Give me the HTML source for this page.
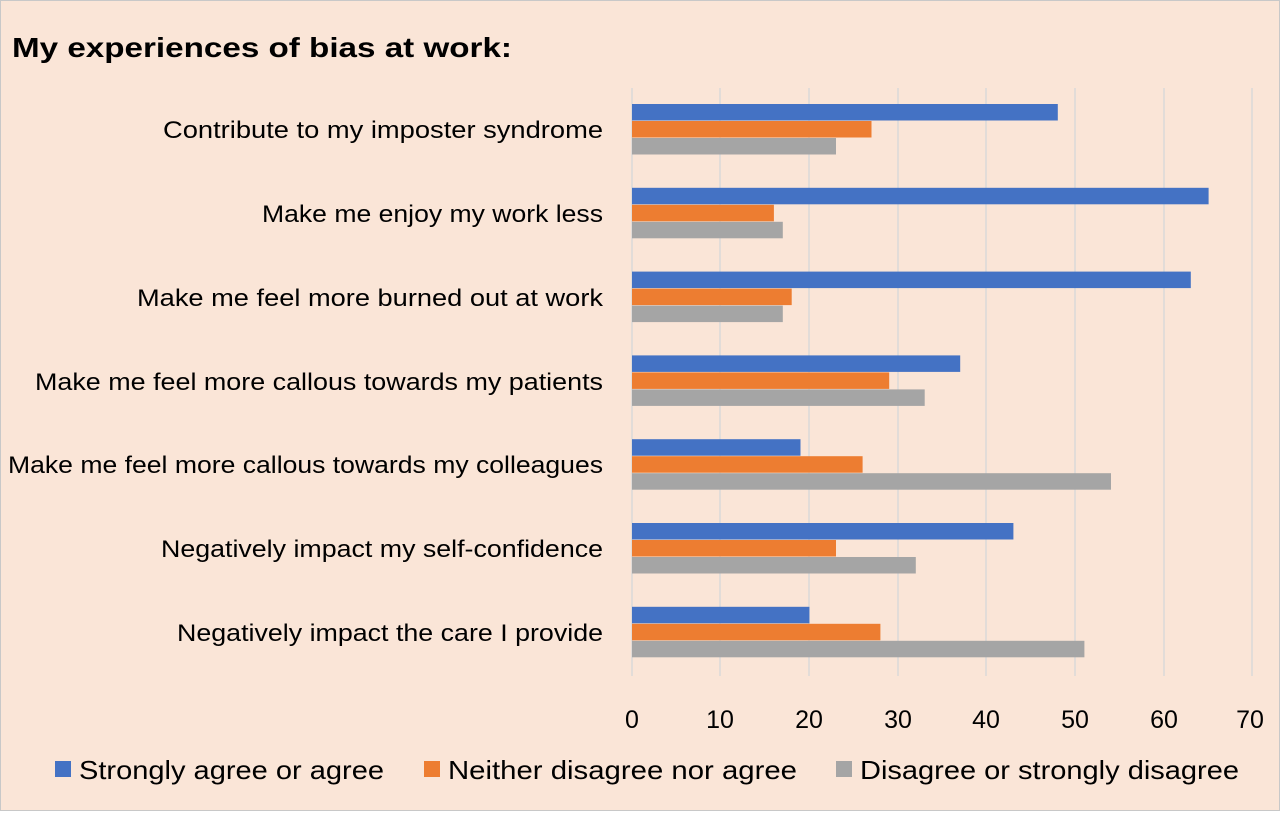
<!DOCTYPE html>
<html><head><style>
body{margin:0;width:1280px;height:811px;overflow:hidden;background:#fff;font-family:"Liberation Sans",sans-serif}
</style></head><body>
<svg width="1280" height="811" xmlns="http://www.w3.org/2000/svg" font-family="Liberation Sans, sans-serif">
<rect x="0.5" y="0.5" width="1279" height="810" fill="#FAE5D7" stroke="#c8c8c8"/>
<text x="12" y="57" font-size="28" font-weight="bold" fill="#000" textLength="500" lengthAdjust="spacingAndGlyphs">My experiences of bias at work:</text>
<g stroke="#d9d9d9" stroke-width="1.5">
<line x1="720" y1="88" x2="720" y2="676"/><line x1="809" y1="88" x2="809" y2="676"/>
<line x1="898" y1="88" x2="898" y2="676"/><line x1="986" y1="88" x2="986" y2="676"/>
<line x1="1075" y1="88" x2="1075" y2="676"/><line x1="1164" y1="88" x2="1164" y2="676"/>
<line x1="1252" y1="88" x2="1252" y2="676"/><line x1="632" y1="88" x2="632" y2="676"/>
</g>
<g>
<rect x="632" y="104" width="425.8" height="16.5" fill="#4472C4"/>
<rect x="632" y="121" width="239.5" height="16.5" fill="#ED7D31"/>
<rect x="632" y="138" width="204" height="16.5" fill="#A5A5A5"/>
<rect x="632" y="187.8" width="576.6" height="16.5" fill="#4472C4"/>
<rect x="632" y="204.8" width="141.9" height="16.5" fill="#ED7D31"/>
<rect x="632" y="221.8" width="150.8" height="16.5" fill="#A5A5A5"/>
<rect x="632" y="271.6" width="558.8" height="16.5" fill="#4472C4"/>
<rect x="632" y="288.6" width="159.7" height="16.5" fill="#ED7D31"/>
<rect x="632" y="305.6" width="150.8" height="16.5" fill="#A5A5A5"/>
<rect x="632" y="355.4" width="328.2" height="16.5" fill="#4472C4"/>
<rect x="632" y="372.4" width="257.2" height="16.5" fill="#ED7D31"/>
<rect x="632" y="389.4" width="292.7" height="16.5" fill="#A5A5A5"/>
<rect x="632" y="439.2" width="168.5" height="16.5" fill="#4472C4"/>
<rect x="632" y="456.2" width="230.6" height="16.5" fill="#ED7D31"/>
<rect x="632" y="473.2" width="479" height="16.5" fill="#A5A5A5"/>
<rect x="632" y="523" width="381.4" height="16.5" fill="#4472C4"/>
<rect x="632" y="540" width="204" height="16.5" fill="#ED7D31"/>
<rect x="632" y="557" width="283.8" height="16.5" fill="#A5A5A5"/>
<rect x="632" y="606.8" width="177.4" height="16.5" fill="#4472C4"/>
<rect x="632" y="623.8" width="248.4" height="16.5" fill="#ED7D31"/>
<rect x="632" y="640.8" width="452.4" height="16.5" fill="#A5A5A5"/>
</g>
<g font-size="24" fill="#000" lengthAdjust="spacingAndGlyphs">
<text x="163" y="138" textLength="440" lengthAdjust="spacingAndGlyphs">Contribute to my imposter syndrome</text>
<text x="262" y="222" textLength="341" lengthAdjust="spacingAndGlyphs">Make me enjoy my work less</text>
<text x="137" y="306" textLength="466" lengthAdjust="spacingAndGlyphs">Make me feel more burned out at work</text>
<text x="35" y="390" textLength="568" lengthAdjust="spacingAndGlyphs">Make me feel more callous towards my patients</text>
<text x="8" y="473" textLength="595" lengthAdjust="spacingAndGlyphs">Make me feel more callous towards my colleagues</text>
<text x="161" y="557" textLength="442" lengthAdjust="spacingAndGlyphs">Negatively impact my self-confidence</text>
<text x="177" y="641" textLength="426" lengthAdjust="spacingAndGlyphs">Negatively impact the care I provide</text>
</g>
<g font-size="25" fill="#000" text-anchor="middle">
<text x="632" y="728">0</text><text x="720" y="728">10</text><text x="809" y="728">20</text>
<text x="898" y="728">30</text><text x="986" y="728">40</text><text x="1075" y="728">50</text>
<text x="1164" y="728">60</text><text x="1250" y="728">70</text>
</g>
<g font-size="26" fill="#000">
<rect x="55" y="761" width="16" height="16" fill="#4472C4"/><text x="79" y="779" textLength="305" lengthAdjust="spacingAndGlyphs">Strongly agree or agree</text>
<rect x="424" y="761" width="16" height="16" fill="#ED7D31"/><text x="448" y="779" textLength="349" lengthAdjust="spacingAndGlyphs">Neither disagree nor agree</text>
<rect x="836" y="761" width="16" height="16" fill="#A5A5A5"/><text x="860" y="779" textLength="379" lengthAdjust="spacingAndGlyphs">Disagree or strongly disagree</text>
</g>
</svg>
</body></html>
